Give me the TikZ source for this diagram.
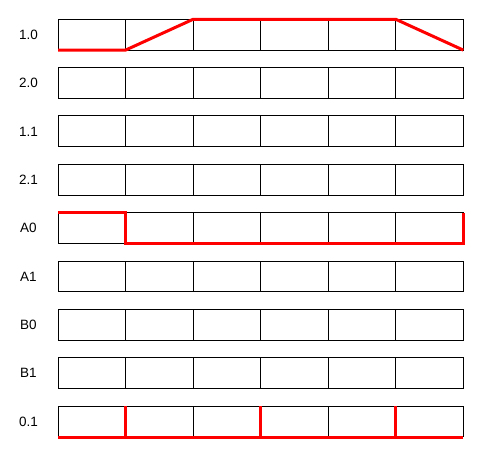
\documentclass[tikz,border=0pt]{standalone}
\usepackage{fontspec}
\setmainfont{Liberation Sans}
\tikzset{cell/.style = {draw=black, line width=1}}
\tikzset{sig/.style = {red, line width=3}}
\tikzset{lbl/.style = {font=\fontsize{13.5}{16}\selectfont, inner sep=0}}

\begin{document}
\begin{tikzpicture}[x=1pt,y=-1pt]
        \useasboundingbox (0,0) rectangle (486,449);
        \foreach \name [count=\i from 0] in {1.0,2.0,1.1,2.1,A0,A1,B0,B1,0.1} {
            \pgfmathsetmacro{\rowy}{19.3+48.35*\i}
            \draw [cell] (58,\rowy) rectangle (463.3,\rowy+30.8);
            \foreach \c in {1,...,5}
                \draw [cell] (58+67.55*\c,\rowy) -- (58+67.55*\c,\rowy+30.8);
            \node [lbl] (row\i) at (28.5,\rowy+15.4) {\name};
        }
        % 1.0
        \draw [sig] (58,50.1) -- (125.55,50.1) -- (193.1,19.3) -- (395.75,19.3) -- (463.3,50.1);
        % A0
        \draw [sig] (58,212.7) -- (125.55,212.7) -- (125.55,243.5) -- (463.3,243.5) -- (463.3,212.7);
        % 0.1
        \draw [sig] (58,437) -- (463.3,437);
        \foreach \x in {125.55,260.65,395.75}
            \draw [sig] (\x,406.1) -- (\x,437);
    \end{tikzpicture}
\end{document}
